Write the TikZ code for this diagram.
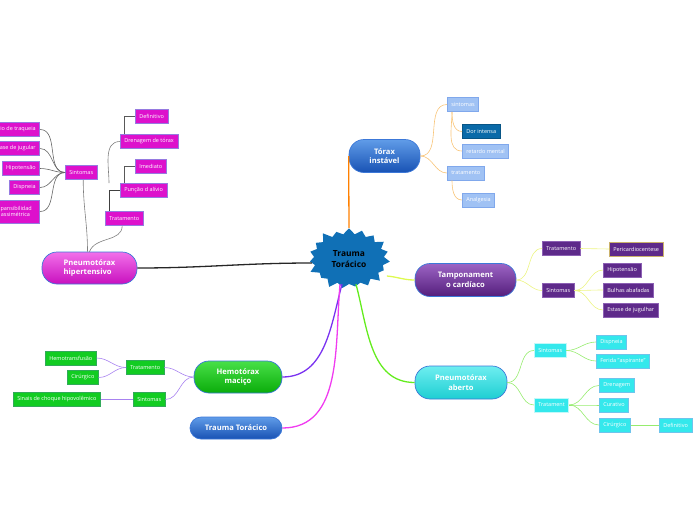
\documentclass[tikz,border=0pt]{standalone}
\usepackage{fontspec}
\setmainfont{Open Sans}
\usetikzlibrary{shapes.symbols}

\definecolor{starblue}{RGB}{16,112,182}
\definecolor{pilledge}{RGB}{60,120,216}
\definecolor{torhi}{RGB}{96,156,232}
\definecolor{torlo}{RGB}{24,82,180}
\definecolor{torleaf}{RGB}{160,194,244}
\definecolor{torleafedge}{RGB}{128,168,236}
\definecolor{tordark}{RGB}{10,106,168}
\definecolor{torline}{RGB}{248,196,120}
\definecolor{tamphi}{RGB}{156,100,196}
\definecolor{tamplo}{RGB}{84,30,124}
\definecolor{tampleaf}{RGB}{94,42,138}
\definecolor{tampedge}{RGB}{140,96,180}
\definecolor{tampline}{RGB}{236,244,130}
\definecolor{abhi}{RGB}{110,238,240}
\definecolor{ablo}{RGB}{30,206,210}
\definecolor{ableaf}{RGB}{52,232,236}
\definecolor{abedge}{RGB}{110,196,236}
\definecolor{abline}{RGB}{150,236,110}
\definecolor{hemohi}{RGB}{72,224,72}
\definecolor{hemolo}{RGB}{10,172,10}
\definecolor{hemoleaf}{RGB}{18,204,34}
\definecolor{hemoedge}{RGB}{50,170,90}
\definecolor{hemoline}{RGB}{168,130,240}
\definecolor{hiphi}{RGB}{242,112,234}
\definecolor{hiplo}{RGB}{200,16,190}
\definecolor{hipleaf}{RGB}{221,17,204}
\definecolor{hipedge}{RGB}{150,122,224}
\definecolor{hemotrunk}{RGB}{122,50,240}
\definecolor{traumatrunk}{RGB}{240,60,240}
\definecolor{abtrunk}{RGB}{100,236,30}
\definecolor{tamptrunk}{RGB}{222,250,80}

\begin{document}
\begin{tikzpicture}[x=1pt,y=1pt,
  every node/.style={font=\fontsize{5.5}{6.6}\selectfont},
  pill/.style={draw=pilledge,line width=0.7pt,rounded corners=15pt,minimum height=33pt,
    align=center,text=white,font=\fontsize{7.6}{9.6}\selectfont\bfseries},
  leaf/.style={draw,line width=0.6pt,minimum height=14pt,inner xsep=4pt,inner ysep=1pt,
    text=white,anchor=west},
  branch/.style={line width=0.6pt},
  trunk/.style={line width=1.3pt}]
  \useasboundingbox (0,0) rectangle (696,-520);
  \clip (0,0) rectangle (696,-520);

  % centre
  \node[starburst,fill=starblue,starburst points=19,starburst point height=8pt,
    minimum width=86pt,minimum height=66pt,inner sep=0pt,align=center,
    font=\fontsize{8.4}{10.4}\selectfont\bfseries] (star) at (349,-259) {Trauma\\Torácico};

  % main topics
  \node[pill,top color=torhi,bottom color=torlo,minimum width=71pt] (torax) at (384.5,-156) {Tórax\\instável};
  \node[pill,top color=tamphi,bottom color=tamplo,minimum width=101pt] (tamp) at (465.5,-280) {Tamponament\\o cardíaco};
  \node[pill,top color=abhi,bottom color=ablo,minimum width=92pt] (aberto) at (461,-382.5) {Pneumotórax\\aberto};
  \node[pill,top color=hemohi,bottom color=hemolo,minimum width=88pt,minimum height=32pt] (hemo) at (238,-377) {Hemotórax\\maciço};
  \node[pill,top color=torhi,bottom color=torlo,minimum width=92pt,minimum height=22pt,rounded corners=11pt] (trauma) at (236,-428) {Trauma Torácico};
  \node[pill,top color=hiphi,bottom color=hiplo,minimum width=95pt,minimum height=32pt,align=left] (hiper) at (89.5,-268) {Pneumotórax\\hipertensivo};

  \draw[trunk,orange] (star.north) -- (torax.west);
  \draw[trunk,black!85] ([yshift=-4pt]star.west) to[out=180,in=0] (hiper.east);
  \draw[trunk,tamptrunk] ([yshift=-17pt]star.east) to[out=-5,in=180] (tamp.west);
  \draw[trunk,abtrunk] ([xshift=7pt]star.south) to[out=-75,in=180] (aberto.west);
  \draw[trunk,hemotrunk] ([xshift=-7pt]star.south) to[out=-105,in=0] (hemo.east);
  \draw[trunk,traumatrunk] ([xshift=-9pt]star.south) to[out=-95,in=0] (trauma.east);

  % Torax instavel
  \node[leaf,fill=torleaf,draw=torleafedge] (tsint) at (447,-104.5) {sintomas};
  \node[leaf,fill=tordark,draw=tordark!80!black] (tdor) at (462,-131.5) {Dor intensa};
  \node[leaf,fill=torleaf,draw=torleafedge] (tret) at (462,-151) {retardo mental};
  \node[leaf,fill=torleaf,draw=torleafedge] (ttrat) at (447,-173) {tratamento};
  \node[leaf,fill=torleaf,draw=torleafedge] (tanal) at (462,-200) {Analgesia};
  \draw[branch,torline] (torax.east) to[out=0,in=180] (tsint.west);
  \draw[branch,torline] (torax.east) to[out=0,in=180] (ttrat.west);
  \draw[branch,torline] ([xshift=5pt]tsint.south west) to[out=-90,in=180] (tdor.west);
  \draw[branch,torline] ([xshift=5pt]tsint.south west) to[out=-90,in=180] (tret.west);
  \draw[branch,torline] ([xshift=5pt]ttrat.south west) to[out=-90,in=180] (tanal.west);

  % Tamponamento cardiaco
  \node[leaf,fill=tampleaf,draw=tampedge] (ctrat) at (542,-248.5) {Tratamento};
  \node[leaf,fill=tampleaf,draw=yellow!50!tampedge] (cperi) at (609,-249) {Pericardiocentese};
  \node[leaf,fill=tampleaf,draw=tampedge] (csint) at (542,-290.5) {Sintomas};
  \node[leaf,fill=tampleaf,draw=tampedge] (chipo) at (603,-270) {Hipotensão};
  \node[leaf,fill=tampleaf,draw=tampedge] (cbul) at (603,-290) {Bulhas abafadas};
  \node[leaf,fill=tampleaf,draw=tampedge] (cest) at (603,-310) {Estase de jugulhar};
  \draw[branch,tampline] (tamp.east) to[out=0,in=180] (ctrat.west);
  \draw[branch,tampline] (tamp.east) to[out=0,in=180] (csint.west);
  \draw[branch,tampline] (ctrat.east) -- (cperi.west);
  \draw[branch,tampline] (csint.east) to[out=0,in=180] (chipo.west);
  \draw[branch,tampline] (csint.east) to[out=0,in=180] (cbul.west);
  \draw[branch,tampline] (csint.east) to[out=0,in=180] (cest.west);

  % Pneumotorax aberto
  \node[leaf,fill=ableaf,draw=white!70!ableaf] (asint) at (534,-350.5) {Sintomas};
  \node[leaf,fill=ableaf,draw=abedge] (adisp) at (596,-342) {Dispneia};
  \node[leaf,fill=ableaf,draw=abedge] (afer) at (596,-361) {Ferida "aspirante"};
  \node[leaf,fill=ableaf,draw=white!70!ableaf] (atrat) at (534,-405) {Tratament};
  \node[leaf,fill=ableaf,draw=abedge] (adren) at (599,-385.5) {Drenagem};
  \node[leaf,fill=ableaf,draw=abedge] (acur) at (599,-405) {Curativo};
  \node[leaf,fill=ableaf,draw=abedge] (acir) at (599,-425) {Cirúrgico};
  \node[leaf,fill=ableaf,draw=abedge] (adef) at (659,-425) {Definitivo};
  \draw[branch,abline] (aberto.east) to[out=0,in=180] (asint.west);
  \draw[branch,abline] (aberto.east) to[out=0,in=180] (atrat.west);
  \draw[branch,abline] (asint.east) to[out=0,in=180] (adisp.west);
  \draw[branch,abline] (asint.east) to[out=0,in=180] (afer.west);
  \draw[branch,abline] (atrat.east) to[out=0,in=180] (adren.west);
  \draw[branch,abline] (atrat.east) to[out=0,in=180] (acur.west);
  \draw[branch,abline] (atrat.east) to[out=0,in=180] (acir.west);
  \draw[branch,abline] (acir.east) -- (adef.west);

  % Hemotorax macico
  \node[leaf,fill=hemoleaf,draw=hemoedge] (htrat) at (126,-367.5) {Tratamento};
  \node[leaf,fill=hemoleaf,draw=hemoedge] (hhemo) at (45,-358) {Hemotransfusão};
  \node[leaf,fill=hemoleaf,draw=hemoedge] (hcir) at (67,-377.5) {Cirúrgico};
  \node[leaf,fill=hemoleaf,draw=hemoedge] (hsint) at (133,-399.5) {Sintomas};
  \node[leaf,fill=hemoleaf,draw=hemoedge] (hsin) at (13,-399.5) {Sinais de choque hipovolêmico};
  \draw[branch,hemoline] (hemo.west) to[out=180,in=0] (htrat.east);
  \draw[branch,hemoline] (hemo.west) to[out=180,in=0] (hsint.east);
  \draw[branch,hemoline] (htrat.west) to[out=180,in=0] (hhemo.east);
  \draw[branch,hemoline] (htrat.west) to[out=180,in=0] (hcir.east);
  \draw[branch,hemoline] (hsint.west) -- (hsin.east);

  % Pneumotorax hipertensivo
  \node[leaf,fill=hipleaf,draw=hipedge] (psint) at (65,-172.5) {Sintomas};
  \node[leaf,fill=hipleaf,draw=hipedge,anchor=east] (pdesv) at (40,-129.5) {Desvio de traqueia};
  \node[leaf,fill=hipleaf,draw=hipedge,anchor=east] (pest) at (40,-148.5) {Estase de jugular};
  \node[leaf,fill=hipleaf,draw=hipedge,anchor=east] (phipo) at (40,-168.5) {Hipotensão};
  \node[leaf,fill=hipleaf,draw=hipedge,anchor=east] (pdisp) at (40,-187.5) {Dispneia};
  \node[leaf,fill=hipleaf,draw=hipedge,anchor=east,align=center,minimum height=23pt,inner xsep=8pt] (pexp) at (40,-211.5) {Expansibilidad\\e assimétrica};
  \node[leaf,fill=hipleaf,draw=hipedge] (ptrat) at (105,-218.5) {Tratamento};
  \node[leaf,fill=hipleaf,draw=hipedge] (ppun) at (120,-190.5) {Punção d alívio};
  \node[leaf,fill=hipleaf,draw=hipedge] (pime) at (135,-166) {Imediato};
  \node[leaf,fill=hipleaf,draw=hipedge] (pdren) at (120,-141.5) {Drenagem de tórax};
  \node[leaf,fill=hipleaf,draw=hipedge] (pdef) at (135,-116) {Definitivo};
  \draw[branch,gray] ([xshift=-2pt]hiper.north) to[out=90,in=-90] ([xshift=2pt]psint.south);
  \draw[branch,gray] (hiper.north) to[out=70,in=-90] ([xshift=-2pt]ptrat.south);
  \foreach \kid in {pdesv,pest,phipo,pdisp,pexp}
    \draw[branch,gray!80!black] (psint.west) to[out=180,in=0] (\kid.east);
  \draw[branch,black!75] ([xshift=4pt]ptrat.north west) |- (ppun.west);
  \draw[branch,gray] ([xshift=4pt,yshift=28pt]ptrat.north west) to[out=90,in=180] (pdren.west);
  \draw[branch,gray!70!black] ([xshift=4pt]ppun.north west) |- (pime.west);
  \draw[branch,gray!70!black] ([xshift=4pt]pdren.north west) |- (pdef.west);
\end{tikzpicture}
\end{document}
